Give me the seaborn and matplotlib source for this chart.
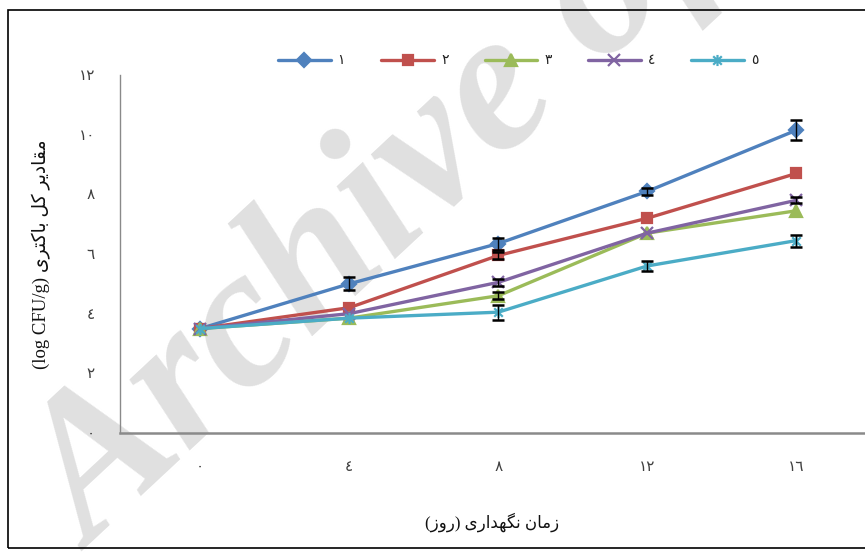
import numpy as np
import pandas as pd
import matplotlib
matplotlib.use("Agg")
import matplotlib.pyplot as plt
from matplotlib.patches import Rectangle
from matplotlib.path import Path
import seaborn as sns

# ---- data -------------------------------------------------------------
days = ["٠", "٤", "٨", "١٢", "١٦"]
y_ticks = [0, 2, 4, 6, 8, 10, 12]
y_tick_labels = ["٠", "٢", "٤", "٦", "٨", "١٠", "١٢"]
series_names = ["١", "٢", "٣", "٤", "٥"]

t1 = [3.5, 5.0, 6.35, 8.1, 10.15]
t2 = [3.5, 4.2, 5.95, 7.2, 8.7]
t3 = [3.5, 3.85, 4.6, 6.7, 7.45]
t4 = [3.5, 4.0, 5.05, 6.7, 7.8]
t5 = [3.5, 3.85, 4.05, 5.6, 6.45]

# standard deviations (0 = no bar drawn)
e1 = [0.0, 0.22, 0.20, 0.12, 0.33]
e2 = [0.0, 0.0, 0.12, 0.0, 0.0]
e3 = [0.0, 0.0, 0.12, 0.0, 0.0]
e4 = [0.0, 0.0, 0.12, 0.0, 0.10]
e5 = [0.0, 0.0, 0.25, 0.18, 0.20]

x_label = "زمان نگهداری (روز)"
y_label_fa = "مقادیر کل باکتری"
y_label_unit = "(log CFU/g)"

# ---- minimal Persian shaping for matplotlib (no complex text layout) --
FORMS = {
    "ا": ("\uFE8D", "\uFE8E", None, None),
    "ب": ("\uFE8F", "\uFE90", "\uFE91", "\uFE92"),
    "ت": ("\uFE95", "\uFE96", "\uFE97", "\uFE98"),
    "د": ("\uFEA9", "\uFEAA", None, None),
    "ر": ("\uFEAD", "\uFEAE", None, None),
    "ز": ("\uFEAF", "\uFEB0", None, None),
    "ق": ("\uFED5", "\uFED6", "\uFED7", "\uFED8"),
    "ل": ("\uFEDD", "\uFEDE", "\uFEDF", "\uFEE0"),
    "م": ("\uFEE1", "\uFEE2", "\uFEE3", "\uFEE4"),
    "ن": ("\uFEE5", "\uFEE6", "\uFEE7", "\uFEE8"),
    "ه": ("\uFEE9", "\uFEEA", "\uFEEB", "\uFEEC"),
    "و": ("\uFEED", "\uFEEE", None, None),
    "ی": ("\uFBFC", "\uFBFD", "\uFBFE", "\uFBFF"),
    "ک": ("\uFB8E", "\uFB8F", "\uFB90", "\uFB91"),
    "گ": ("\uFB92", "\uFB93", "\uFB94", "\uFB95"),
}


def rtl(text):
    out = []
    for i, ch in enumerate(text):
        if ch not in FORMS:
            out.append(ch)
            continue
        iso, fin, ini, med = FORMS[ch]
        prev = text[i - 1] if i > 0 else None
        nxt = text[i + 1] if i < len(text) - 1 else None
        jp = prev in FORMS and FORMS[prev][2] is not None
        jn = ini is not None and nxt in FORMS
        if jp and jn:
            out.append(med)
        elif jp:
            out.append(fin)
        elif jn:
            out.append(ini)
        else:
            out.append(iso)
    vis = "".join(reversed(out))
    return vis.translate(str.maketrans("()", ")("))


# ---- styling ------------------------------------------------------------
sns.set_theme(style="white")
plt.rcParams["font.family"] = ["Liberation Serif", "DejaVu Sans"]

W, H = 865, 554
fig = plt.figure(figsize=(W / 100, H / 100), dpi=100)
ax = fig.add_axes([120 / W, 1 - 433 / H, 1 - 120 / W, (433 - 75) / H])
ax.set_facecolor("none")

# asterisk marker: an x with a vertical stroke
star = Path([(-1, -1), (1, 1), (-1, 1), (1, -1), (0, -1.3), (0, 1.3)],
            [Path.MOVETO, Path.LINETO, Path.MOVETO, Path.LINETO,
             Path.MOVETO, Path.LINETO])

colors = ["#4F81BD", "#C0504D", "#9BBB59", "#8064A2", "#4BACC6"]
markers = ["D", "s", "^", "x", star]
msizes = [7, 7, 8, 8, 8]
values = [t1, t2, t3, t4, t5]
errors = [e1, e2, e3, e4, e5]

for name, vals, errs, c, m, ms in zip(series_names, values, errors,
                                       colors, markers, msizes):
    df = pd.DataFrame({"day": days, "count": vals, "sd": errs})
    sns.lineplot(data=df, x="day", y="count", sort=False, color=c,
                 marker=m, markersize=ms, markerfacecolor=c,
                 markeredgecolor=c, markeredgewidth=1.6, linewidth=2.4,
                 label=name, ax=ax, zorder=3)
    bars = df[df["sd"] > 0]
    ax.errorbar(bars["day"], bars["count"], yerr=bars["sd"], fmt="none",
                ecolor="black", elinewidth=1.0, capsize=4, capthick=1.8,
                zorder=4)

ax.set_xlim(-0.537, 4.46)
ax.set_ylim(0, 12)
ax.set_yticks(y_ticks)
ax.set_yticklabels(y_tick_labels)
ax.tick_params(axis="both", length=0, labelsize=11, colors="#404040")
ax.tick_params(axis="y", pad=18)
ax.tick_params(axis="x", pad=20)

for s in ("top", "right"):
    ax.spines[s].set_visible(False)
ax.spines["left"].set_color("#8a8a8a")
ax.spines["left"].set_linewidth(1.0)
ax.spines["bottom"].set_color("#8a8a8a")
ax.spines["bottom"].set_linewidth(1.8)

ax.set_xlabel(rtl(x_label), fontsize=12, labelpad=28, color="#111111")
ax.set_ylabel(y_label_unit + " " + rtl(y_label_fa), fontsize=13.5,
              labelpad=20, color="#111111")

leg = ax.legend(loc="center", bbox_to_anchor=(518 / W, 1 - 61 / H),
                bbox_transform=fig.transFigure, ncol=5, frameon=False,
                handlelength=3.8, handletextpad=0.5, columnspacing=2.6,
                fontsize=10)
for txt in leg.get_texts():
    txt.set_color("#222222")

# faint diagonal watermark behind the plot
fig.text(92 / W, 1 - 552 / H, "Archive of SID", fontsize=145,
         family="Liberation Serif", weight="bold", style="italic",
         color="#e0e0e0", rotation=43, rotation_mode="anchor",
         ha="left", va="baseline", zorder=-5)

# outer frame
fig.add_artist(Rectangle((8 / W, 6 / H), 1.2, 1 - 16 / H,
                         transform=fig.transFigure, fill=False,
                         edgecolor="black", linewidth=1.2))

fig.savefig("out.png", dpi=100)
